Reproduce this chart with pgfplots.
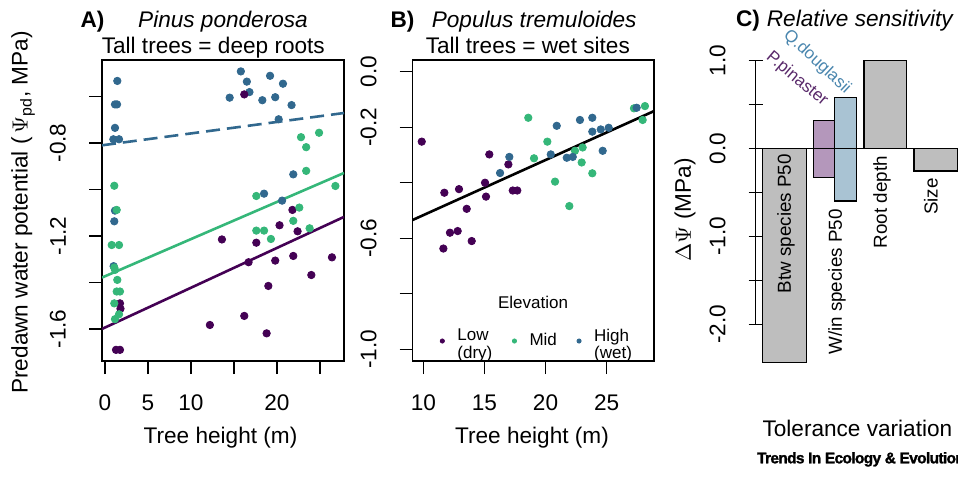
\documentclass[border=0pt]{standalone}
\usepackage{fontspec}
\setmainfont{Liberation Sans}
\usepackage{pgfplots}
\pgfplotsset{compat=1.18}
\definecolor{clow}{HTML}{440154}
\definecolor{cmid}{HTML}{35B779}
\definecolor{chigh}{HTML}{31688E}
\definecolor{cgray}{HTML}{BEBEBE}
\definecolor{cpinbar}{HTML}{B497BB}
\definecolor{cdoubar}{HTML}{A9C3D3}
\definecolor{cpintxt}{HTML}{5A2A6B}
\definecolor{cdoutxt}{HTML}{4A86AE}
\newcommand{\fs}{\fontsize{11.3}{13.5}\selectfont}
\newcommand{\fsb}{\fontsize{9.4}{11}\selectfont}
\newcommand{\fsm}{\fontsize{8.5}{8.5}\selectfont}

% R base-graphics look: outside ticks, rotated y labels, numbers in the text font
\pgfplotsset{rbase/.style={
  scale only axis, anchor=south west,
  axis line style={line width=0.6pt},
  tick style={black, line width=0.6pt},
  tick align=outside, major tick length=6.5pt, tick pos=left,
  tick label style={font=\fs},
  /pgf/number format/assume math mode=true,
  yticklabel style={rotate=90, anchor=south},
  xticklabel shift=7pt, yticklabel shift=8pt,
}}
\pgfplotsset{dots/.style={only marks, mark=*, mark size=1.85pt, color=#1}}

\begin{document}
\begin{tikzpicture}[font=\fs]
\useasboundingbox (0,0) rectangle (479pt,239pt);

% ---------------- A) Pinus ponderosa ----------------
\begin{axis}[rbase,
  at={(51pt,58.5pt)}, width=121pt, height=150.5pt,
  xmin=-0.35, xmax=27.8, ymin=-1.738, ymax=-0.443,
  xtick={0,5,10,15,20,25}, xticklabels={0,5,10,,20,},
  ytick={-1.6,-1.4,-1.2,-1.0,-0.8,-0.6}, yticklabels={-1.6,,-1.2,,-0.8,},
]
\addplot[dots=chigh] coordinates {
  (1.43,-0.533) (1.16,-0.634) (1.40,-0.634) (1.16,-0.735) (0.97,-0.784)
  (1.63,-0.784) (15.8,-0.492) (19.2,-0.511) (16.5,-0.536) (20.7,-0.545)
  (16.8,-0.581) (14.5,-0.605) (19.8,-0.603) (18.3,-0.616) (21.7,-0.637)
  (20.2,-0.698) (21.9,-0.935) (18.5,-1.018) (20.6,-1.048) (1.16,-1.091)
  (1.08,-1.137) (1.00,-1.330)
};
\addplot[dots=clow] coordinates {
  (16.2,-0.591) (21.8,-1.088) (20.3,-1.154) (22.4,-1.180) (13.6,-1.215)
  (17.6,-1.229) (16.7,-1.313) (19.8,-1.306) (21.9,-1.286) (26.4,-1.292)
  (24.0,-1.368) (19.0,-1.415) (16.2,-1.544) (12.2,-1.583) (18.8,-1.619)
  (1.28,-1.690) (1.74,-1.690) (1.74,-1.490) (1.80,-1.513)
};
\addplot[dots=cmid] coordinates {
  (22.8,-0.775) (24.9,-0.756) (23.4,-0.818) (23.4,-0.920) (26.8,-0.985)
  (17.6,-1.028) (22.6,-1.078) (21.9,-1.135) (23.8,-1.167) (17.6,-1.177)
  (18.5,-1.177) (19.3,-1.213) (1.08,-0.984) (1.36,-1.088) (0.78,-1.239)
  (1.63,-1.239) (1.08,-1.336) (1.16,-1.346) (1.43,-1.389) (1.36,-1.439)
  (1.74,-1.439) (1.08,-1.490) (1.63,-1.537) (1.16,-1.558)
};
% fitted lines
\addplot[chigh, line width=1.3pt, dash pattern=on 7pt off 3.5pt] coordinates {(-0.35,-0.810) (27.8,-0.671)};
\addplot[cmid, line width=1.3pt] coordinates {(-0.35,-1.379) (27.8,-0.929)};
\addplot[clow, line width=1.3pt] coordinates {(-0.35,-1.600) (27.8,-1.118)};
\end{axis}

% ---------------- B) Populus tremuloides ----------------
\begin{axis}[rbase,
  at={(206.35pt,58.5pt)}, width=120.65pt, height=150.5pt,
  xmin=9.13, xmax=28.88, ymin=-1.042, ymax=0.042,
  xtick={10,15,20,25},
  ytick={-1.0,-0.8,-0.6,-0.4,-0.2,0.0}, yticklabels={-1.0,,-0.6,,-0.2,0.0},
  legend style={at={(axis cs:11.35,-0.970)}, anchor=west, draw=none, fill=none,
    inner sep=0pt, legend columns=3, font=\fsm,
    nodes={inner sep=0pt},
    /tikz/every odd column/.append style={column sep=6.5pt},
    /tikz/every even column/.append style={column sep=10pt}},
  legend image code/.code={\draw[#1, mark size=1.05pt] plot coordinates {(0cm,0cm)};},
]
\addplot[dots=clow] coordinates {
  (9.87,-0.252) (15.4,-0.298) (16.96,-0.334) (15.05,-0.400) (11.72,-0.436)
  (12.92,-0.423) (15.13,-0.450) (17.32,-0.428) (17.69,-0.428) (13.55,-0.494)
  (12.18,-0.580) (12.81,-0.574) (13.96,-0.610) (11.64,-0.637)
};
\addplot[dots=cmid] coordinates {
  (18.59,-0.166) (20.15,-0.252) (19.06,-0.312) (20.78,-0.396) (21.95,-0.484)
  (22.41,-0.285) (23.04,-0.273) (22.96,-0.327) (23.83,-0.366) (27.24,-0.132)
  (28.14,-0.124) (27.95,-0.174)
};
\addplot[dots=chigh] coordinates {
  (17.04,-0.307) (16.28,-0.365) (20.92,-0.195) (20.43,-0.298) (21.74,-0.310)
  (22.23,-0.307) (22.82,-0.174) (23.83,-0.166) (23.83,-0.216) (24.52,-0.208)
  (25.17,-0.202) (24.68,-0.285) (27.46,-0.130)
};
\addplot[black, line width=1.3pt, forget plot] coordinates {(9.13,-0.534) (28.88,-0.142)};
\legend{\begin{tabular}{@{}l@{}}Low\\(dry)\end{tabular}, Mid,
        \begin{tabular}{@{}l@{}}High\\(wet)\end{tabular}}
\node[font=\fsm] at (axis cs:18.98,-0.830) {Elevation};
\end{axis}

% ---------------- C) Relative sensitivity ----------------
\begin{axis}[rbase,
  at={(377.85pt,76.85pt)}, width=101.15pt, height=131.8pt,
  xmin=755.7, xmax=958, ymin=-2, ymax=1, clip=false,
  axis x line=none, axis y line=left, axis line style={-},
  major tick length=7pt,
  ytick={-2,-1.5,-1,-0.5,0,0.5,1}, yticklabels={-2.0,,-1.0,,0.0,,1.0},
]
\addplot[ybar, bar shift=0pt, bar width=44, fill=cgray, draw=black, line width=0.6pt]
  coordinates {(784.7,-2.435) (936,-0.255)};
\addplot[ybar, bar shift=0pt, bar width=42.7, fill=cgray, draw=black, line width=0.6pt]
  coordinates {(885.3,1.0)};
\addplot[ybar, bar shift=0pt, bar width=21.5, fill=cpinbar, draw=black, line width=0.6pt]
  coordinates {(824,0.316) (824,-0.331)};
\addplot[ybar, bar shift=0pt, bar width=21.5, fill=cdoubar, draw=black, line width=0.6pt]
  coordinates {(845.5,0.582) (845.5,-0.597)};
\addplot[black, line width=0.6pt] coordinates {(755.7,0) (962,0)};
\node[rotate=90, anchor=east, inner sep=0pt, font=\fsb] at (axis cs:786,-0.06) {Btw species P50};
\node[rotate=90, anchor=east, inner sep=0pt, font=\fsb] at (axis cs:837,-0.688) {W/in species P50};
\node[rotate=90, anchor=east, inner sep=0pt, font=\fsb] at (axis cs:882,-0.083) {Root depth};
\node[rotate=90, anchor=east, inner sep=0pt, font=\fsb] at (axis cs:931,-0.335) {Size};
\node[rotate=-40, text=cpintxt, font=\fsm] at (axis cs:797,0.79) {P.pinaster};
\node[rotate=-43, text=cdoutxt, font=\fsm] at (axis cs:817,0.985) {Q.douglasii};
\end{axis}

% ---------------- titles and axis labels ----------------
\node[anchor=base, font=\fs\bfseries] at (46.25pt,225.35pt) {A)};
\node[anchor=base, font=\fs\itshape] at (111.5pt,225.35pt) {Pinus ponderosa};
\node[anchor=base] at (106.65pt,212pt) {Tall trees = deep roots};
\node[anchor=base, font=\fs\bfseries] at (201.25pt,225.35pt) {B)};
\node[anchor=base, font=\fs\itshape] at (267.1pt,225.35pt) {Populus tremuloides};
\node[anchor=base] at (263.9pt,212pt) {Tall trees = wet sites};
\node[anchor=base, font=\fs\bfseries] at (374pt,225.65pt) {C)};
\node[anchor=base, font=\fs\itshape] at (429.9pt,225.65pt) {Relative sensitivity};

\node[anchor=base] at (110.25pt,17.35pt) {Tree height (m)};
\node[anchor=base] at (266pt,17.35pt) {Tree height (m)};
\node[anchor=base] at (428.7pt,20.65pt) {Tolerance variation};
\node[rotate=90] at (11.5pt,132.75pt) {Predawn water potential (\,$\Psi$\textsubscript{pd}, MPa)};
\node[rotate=90] at (342.5pt,134pt) {$\Delta\Psi$ (MPa)};

\node[anchor=base west, inner sep=0pt,
  font=\fontsize{7.7}{8}\selectfont\bfseries\addfontfeature{FakeBold=1.5,LetterSpace=-4}]
  at (378.35pt,7.35pt) {Trends In Ecology \& Evolution};
\end{tikzpicture}
\end{document}
